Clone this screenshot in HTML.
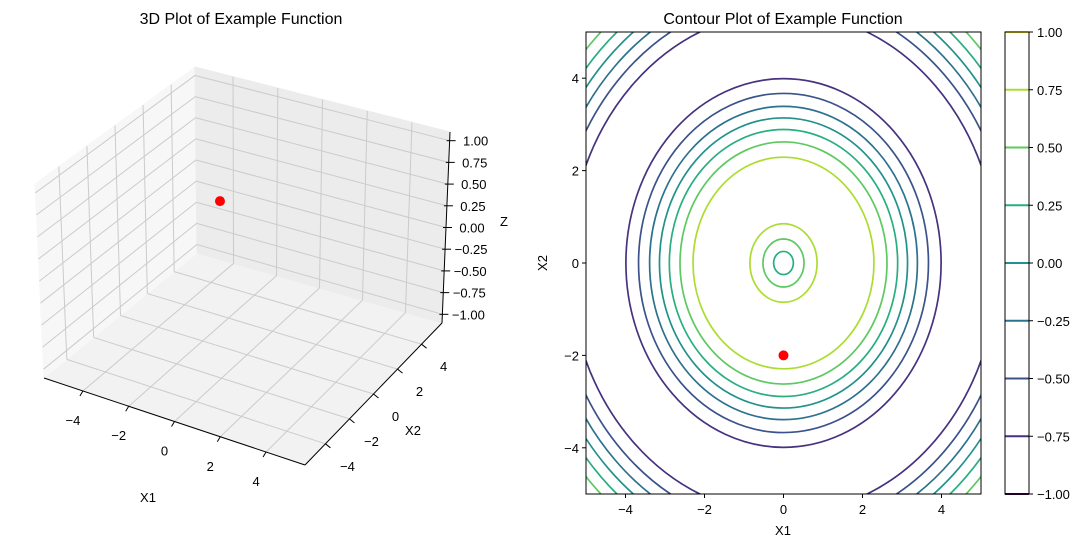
<!DOCTYPE html>
<html><head><meta charset="utf-8"><style>
html,body{margin:0;background:#fff;overflow:hidden;width:1090px;height:547px;}
svg{display:block;font-family:"Liberation Sans","DejaVu Sans",sans-serif;}
</style></head><body>
<svg id="chart" width="1090" height="547" viewBox="0 0 1090 547" xmlns="http://www.w3.org/2000/svg">
<g id="g3d"></g>
<g id="gc"></g>
</svg>
<script>
// ---- data ----
const pointX = [0];
const pointY = [-2];
const pointZ = [0.909];
const axisTicks = [-4, -2, 0, 2, 4];
const zTicks = [-1, -0.75, -0.5, -0.25, 0, 0.25, 0.5, 0.75, 1];
const zTickLabels = ["−1.00","−0.75","−0.50","−0.25","0.00","0.25","0.50","0.75","1.00"];
const levels = [-0.75, -0.5, -0.25, 0, 0.25, 0.5, 0.75];
const innerRadii = [null, null, null, null, 0.25, 0.52, 0.85];
const midRadii = [3.99, 3.67, 3.39, 3.14, 2.89, 2.62, 2.29];
const outerRadii = [5.43, 5.76, 6.03, 6.28, 6.54, 6.81, 7.07];
const cbLevels = [-1, -0.75, -0.5, -0.25, 0, 0.25, 0.5, 0.75, 1];
const cbLabels = ["−1.00","−0.75","−0.50","−0.25","0.00","0.25","0.50","0.75","1.00"];
const tickLabels = ["−4","−2","0","2","4"];

const NS = "http://www.w3.org/2000/svg";
const FS = 13;
function mk(tag, attrs, parent, text){
  const e = document.createElementNS(NS, tag);
  for (const k in attrs) e.setAttribute(k, attrs[k]);
  if (text !== undefined) e.textContent = text;
  parent.appendChild(e); return e;
}
function viridis(t){
  const stops = [[0,"#440154"],[0.125,"#46327e"],[0.25,"#3b528b"],[0.375,"#2c728e"],[0.5,"#21918c"],[0.625,"#28ae80"],[0.75,"#5ec962"],[0.875,"#addc30"],[1,"#fde725"]];
  let best = stops[0]; for (const s of stops) if (Math.abs(s[0]-t) < Math.abs(best[0]-t)) best = s;
  return best[1];
}

// ---- 3D plot ----
const g3 = document.getElementById('g3d');
const C = {
  "000":[44,378],"100":[305,465],"010":[197,253],"110":[442,323],
  "001":[35,184],"101":[306,266],"011":[195,67],"111":[450,132]
};
function P(u,v,w){
  let x=0,y=0;
  for (const a of [0,1]) for (const b of [0,1]) for (const c of [0,1]) {
    const f = (a?u:1-u)*(b?v:1-v)*(c?w:1-w);
    const p = C[""+a+b+c]; x += f*p[0]; y += f*p[1];
  }
  return [x,y];
}
const uX = x => (x+5.7)/11.4, vY = y => (y+5.7)/11.4, wZ = z => (z+1.1)/2.2;
function poly(pts, fill, name){
  const el = mk('polygon',{points:pts.map(p=>p.join(',')).join(' '),fill:fill,stroke:fill},g3);
  
  
}
poly([P(0,0,0),P(1,0,0),P(1,1,0),P(0,1,0)], "#f2f2f2", "floor-pane");
poly([P(0,0,0),P(0,1,0),P(0,1,1),P(0,0,1)], "#f7f7f7", "left-pane");
poly([P(0,1,0),P(1,1,0),P(1,1,1),P(0,1,1)], "#ececec", "back-pane");
function gl(a,b,name){
  const el = mk('line',{x1:a[0],y1:a[1],x2:b[0],y2:b[1],stroke:"#cbcbcb","stroke-width":1},g3);
  
  
}
axisTicks.forEach(t=>{
  gl(P(uX(t),0,0),P(uX(t),1,0),'floor-grid-x');
  gl(P(0,vY(t),0),P(1,vY(t),0),'floor-grid-y');
  gl(P(0,vY(t),0),P(0,vY(t),1),'left-wall-grid');
  gl(P(uX(t),1,0),P(uX(t),1,1),'back-wall-grid');
});
zTicks.forEach(z=>{
  gl(P(0,0,wZ(z)),P(0,1,wZ(z)),'left-wall-zgrid');
  gl(P(0,1,wZ(z)),P(1,1,wZ(z)),'back-wall-zgrid');
});
function al(a,b,name){
  const el = mk('line',{x1:a[0],y1:a[1],x2:b[0],y2:b[1],stroke:"#000","stroke-width":1},g3);
  
  
}
al(P(0,0,0),P(1,0,0),'x1-axis-line');
al(P(1,0,0),P(1,1,0),'x2-axis-line');
al(P(1,1,0),P(1,1,1),'z-axis-line');
function txt(x,y,s,name,anchor,parent,size,extra){
  const el = mk('text',Object.assign({x:x,y:y,'font-size':size||FS,'text-anchor':anchor||'middle',fill:'#000'},extra||{}),parent||g3,s);
  
  
  return el;
}
axisTicks.forEach((t,i)=>{
  const p = P(uX(t),0,0);
  al([p[0],p[1]],[p[0]-3,p[1]+5],'x1-tick');
  txt(p[0]-10,p[1]+34,tickLabels[i],'x1-tick-label');
  const q = P(1,vY(t),0);
  al([q[0],q[1]],[q[0]+5,q[1]+4],'x2-tick');
  txt(q[0]+22,q[1]+27,tickLabels[i],'x2-tick-label');
});
zTicks.forEach((z,i)=>{
  const p = P(1,1,wZ(z));
  al([p[0]-3,p[1]],[p[0]+6,p[1]],'z-tick');
  txt(p[0]+26,p[1]+5,zTickLabels[i],'z-tick-label');
});
txt(148,502,'X1','x1-axis-title');
txt(413,435,'X2','x2-axis-title');
txt(504,226,'Z','z-axis-title');
txt(241,24,'3D Plot of Example Function','3d-title','middle',g3,16);
pointX.forEach((x,i)=>{
  const p = P(uX(x),vY(pointY[i]),wZ(pointZ[i]));
  const el = mk('circle',{cx:p[0],cy:p[1],r:5,fill:'#ff0000'},g3);
  
  
});

// ---- contour ----
const gc = document.getElementById('gc');
const L=586,R=981,T=32,B=494;
const sx = x => L + (x+5)/10*(R-L);
const sy = y => B - (y+5)/10*(B-T);
mk('defs',{},gc).innerHTML = '<clipPath id="clipc"><rect x="586" y="32" width="395" height="462"/></clipPath>';
const cg = mk('g',{'clip-path':'url(#clipc)'},gc);


levels.forEach((lv,i)=>{
  const col = viridis((lv+1)/2);
  [innerRadii[i], midRadii[i], outerRadii[i]].forEach(r=>{
    if (r === null) return;
    const el = mk('ellipse',{cx:sx(0),cy:sy(0),rx:sx(r)-sx(0),ry:sy(0)-sy(r),fill:'none',stroke:col,'stroke-width':1.7},cg);
    
    
  });
});
pointX.forEach((x,i)=>{
  const el = mk('circle',{cx:sx(x),cy:sy(pointY[i]),r:5,fill:'#ff0000'},gc);
  
  
});
const fr = mk('rect',{x:L,y:T,width:R-L,height:B-T,fill:'none',stroke:'#000','stroke-width':1},gc);


axisTicks.forEach((t,i)=>{
  const x = sx(t);
  const a = mk('line',{x1:x,y1:B,x2:x,y2:B+4,stroke:'#000'},gc);
  
  
  txt(x,B+20,tickLabels[i],'x-tick-label','middle',gc);
  const y = sy(t);
  const b = mk('line',{x1:L-4,y1:y,x2:L,y2:y,stroke:'#000'},gc);
  
  
  txt(L-7,y+5,tickLabels[i],'y-tick-label','end',gc);
});
txt(783,535,'X1','contour-x-title','middle',gc);
txt(547,263,'X2','contour-y-title','middle',gc,FS,{transform:'rotate(-90 547 263)'});
txt(783,24,'Contour Plot of Example Function','contour-title','middle',gc,16);

// ---- colorbar ----
const cbL=1005, cbR=1029;
const cy = v => B - (v+1)/2*(B-T);
const cbg = mk('g',{},gc);


cbLevels.forEach((v,i)=>{
  const el = mk('line',{x1:cbL,y1:cy(v),x2:cbR,y2:cy(v),stroke:viridis((v+1)/2),'stroke-width':2},cbg);
  
  
  const t = mk('line',{x1:cbR,y1:cy(v),x2:cbR+4,y2:cy(v),stroke:'#000'},cbg);
  
  
  txt(cbR+8,cy(v)+5,cbLabels[i],'colorbar-tick-label','start',cbg);
});
const cbf = mk('rect',{x:cbL,y:T,width:cbR-cbL,height:B-T,fill:'none',stroke:'#000'},cbg);


</script>
</body></html>
